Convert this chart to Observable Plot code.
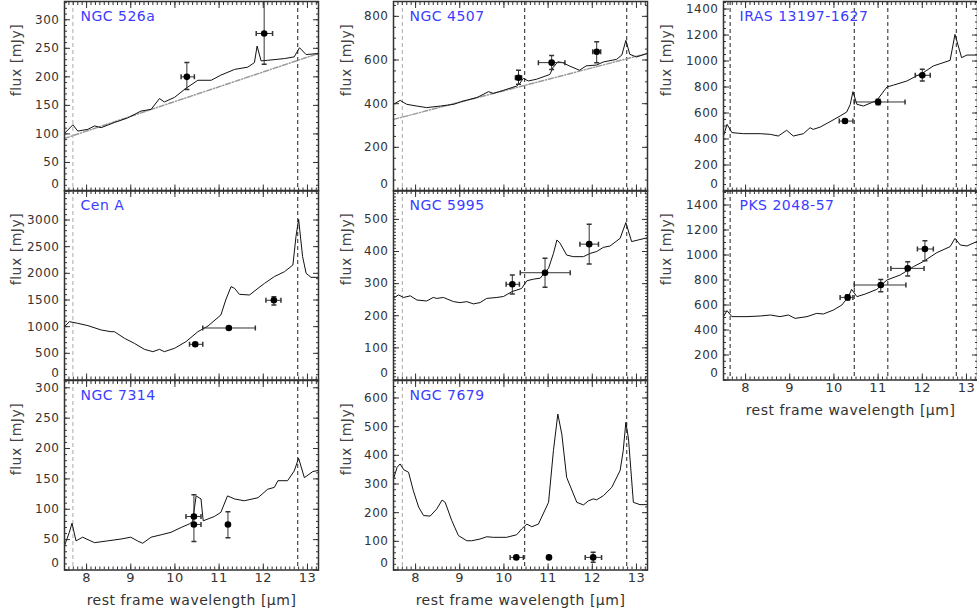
<!DOCTYPE html>
<html><head><meta charset="utf-8">
<script src="https://cdn.jsdelivr.net/npm/d3@7"></script>
<script src="https://cdn.jsdelivr.net/npm/@observablehq/plot@0.6"></script>
<style>
body{margin:0;background:#fff;}
#chart{position:relative;width:977px;height:611px;overflow:hidden;background:#fff;}
#chart svg{position:absolute;overflow:visible;}
</style></head><body><div id="chart"></div>
<script>
// ---------- data ----------
const xTicks = [8, 9, 10, 11, 12, 13];

const ngc526a_wl   = [7.5,7.69,7.8,8.03,8.18,8.33,8.63,8.93,9.23,9.46,9.65,9.76,9.99,10.25,10.52,10.82,11.04,11.35,11.65,11.8,11.86,11.95,12.1,12.48,12.7,12.82,12.97,13.25];
const ngc526a_flux = [101,116,105,108,114,111,120,128,140,143,162,156,164,180,194,194,203,213,217,225,254,228,229,232,235,251,239,241];
const ngc526a_cont_wl = [7.5, 13.25];
const ngc526a_cont_flux = [92, 241];
const ngc526a_pts = [[10.27,200,10.14,10.44,178,225],[12.02,276,11.84,12.21,222,345]];

const cenA_wl   = [7.5,7.61,7.8,8.03,8.33,8.55,8.63,8.86,9.08,9.31,9.5,9.65,9.76,9.99,10.25,10.52,10.75,11.04,11.15,11.27,11.35,11.46,11.69,11.88,12.03,12.25,12.48,12.67,12.74,12.8,12.89,12.97,13.08,13.25];
const cenA_flux = [1000,1094,1063,1019,938,906,906,781,688,575,531,575,531,594,719,906,1013,1219,1500,1750,1719,1606,1594,1719,1813,1938,2031,2156,2688,3013,2313,2000,1925,1925];
const cenA_pts = [[10.46,669,10.33,10.63,640,700],[11.22,975,10.63,11.82,950,1000],[12.24,1494,12.06,12.40,1406,1562]];

const ngc7314_wl   = [7.5,7.61,7.67,7.76,7.91,8.18,8.48,8.78,9.0,9.15,9.27,9.46,9.69,9.91,10.14,10.33,10.4,10.48,10.59,10.64,10.89,11.04,11.19,11.35,11.57,11.88,12.1,12.25,12.33,12.55,12.7,12.8,12.93,13.12,13.25];
const ngc7314_flux = [40,62,77,48,54,45,48,51,54,48,44,54,58,62,70,76,80,122,117,81,88,95,122,117,114,119,133,136,147,147,163,184,152,162,164];
const ngc7314_pts = [[10.43,75,10.38,10.59,47,124],[10.43,88,10.25,10.59,85,91],[11.2,75,11.2,11.2,53,96]];

const ngc4507_wl   = [7.5,7.65,7.8,8.03,8.25,8.56,8.86,9.08,9.39,9.65,9.76,9.99,10.29,10.36,10.44,10.55,10.74,11.04,11.11,11.22,11.33,11.48,11.71,11.86,12.1,12.25,12.55,12.67,12.76,12.85,13.0,13.23];
const ngc4507_flux = [397,415,397,389,382,389,397,412,428,455,447,461,481,493,516,504,512,534,565,592,588,573,553,573,577,591,603,623,690,626,614,629];
const ngc4507_cont_wl = [7.5, 13.23];
const ngc4507_cont_flux = [328, 629];
const ngc4507_pts = [[10.33,519,10.26,10.40,489,553],[11.08,588,10.78,11.38,557,621],[12.10,638,12.01,12.19,588,684]];

const ngc5995_wl   = [7.5,7.61,7.73,7.88,8.03,8.25,8.4,8.48,8.63,8.86,9.01,9.16,9.31,9.46,9.61,9.84,9.99,10.18,10.4,10.52,10.67,10.82,11.01,11.12,11.2,11.27,11.42,11.57,11.8,11.95,12.1,12.25,12.4,12.63,12.76,12.89,13.04,13.25];
const ngc5995_flux = [254,265,257,262,249,246,257,254,257,244,241,244,237,241,254,257,260,275,285,309,314,317,348,394,436,426,389,384,384,394,400,413,417,441,490,431,436,443];
const ngc5995_pts = [[10.19,298,10.05,10.35,268,327],[10.93,334,10.37,11.50,289,379],[11.93,423,11.72,12.14,361,485]];

const ngc7679_wl   = [7.5,7.58,7.65,7.73,7.84,7.95,8.07,8.18,8.33,8.48,8.6,8.67,8.82,8.97,9.16,9.27,9.46,9.61,9.76,10.06,10.29,10.4,10.52,10.63,10.78,11.01,11.12,11.22,11.31,11.42,11.65,11.8,11.91,12.02,12.1,12.25,12.44,12.63,12.7,12.76,12.82,12.93,13.08,13.25];
const ngc7679_flux = [317,358,370,350,341,276,219,190,188,213,244,236,172,120,102,102,108,116,114,114,123,143,160,151,160,236,416,544,474,323,236,227,241,248,245,259,288,347,416,515,457,236,228,228];
const ngc7679_pts = [[10.28,44,10.14,10.44,38,50],[11.02,44,11.02,11.02,41,47],[12.02,44,11.84,12.21,27,62]];

const iras_wl   = [7.5,7.58,7.69,7.95,8.33,8.56,8.74,8.93,9.08,9.31,9.46,9.53,9.69,9.91,10.14,10.29,10.37,10.43,10.52,10.67,10.97,11.2,11.35,11.65,11.87,12.02,12.25,12.63,12.74,12.89,13.01,13.23];
const iras_flux = [423,513,449,441,441,436,423,467,423,441,487,474,492,533,577,608,667,764,667,654,697,800,815,846,885,910,962,1005,1205,1026,1046,1046];
const iras_pts = [[10.25,538,10.12,10.43,525,551],[11.0,685,10.46,11.61,664,705],[12.0,890,11.84,12.18,846,936]];

const pks_wl   = [7.5,7.58,7.69,8.03,8.33,8.56,8.78,8.97,9.12,9.39,9.61,9.76,9.99,10.18,10.33,10.4,10.52,10.71,10.97,11.2,11.5,11.8,12.02,12.33,12.63,12.74,12.86,13.01,13.23];
const pks_flux = [507,555,507,507,512,520,507,520,493,507,533,528,560,600,667,725,667,688,725,800,840,907,947,1019,1067,1133,1080,1072,1107];
const pks_pts = [[10.31,661,10.14,10.43,640,680],[11.06,760,10.46,11.63,707,805],[11.67,893,11.29,12.04,832,947],[12.06,1048,11.89,12.25,955,1115]];

// dashed reference lines (µm)
const col1_gray = [7.69], col1_black = [12.78];
const col2_gray = [7.7],  col2_black = [10.47, 12.78];
const col3_gray = [],     col3_black = [7.65, 10.46, 11.22, 12.77];

// ---------- layout ----------
const W = 254, H = 189.5;
const colLeft = [64, 393, 722.5];
const rowTop = [0.5, 190.25, 380];
const titleDx = [-48, -47, -57];
const BLUE = "#3c3cff", INK = "#333";

const panels = [
  {name:"NGC 526a", col:0,row:0, wl:ngc526a_wl, flux:ngc526a_flux, cont:[ngc526a_cont_wl,ngc526a_cont_flux], pts:ngc526a_pts, gray:col1_gray, black:col1_black, yMax:332, yStep:50, yMinor:10, yTop:300},
  {name:"Cen A", col:0,row:1, wl:cenA_wl, flux:cenA_flux, pts:cenA_pts, gray:col1_gray, black:col1_black, yMax:3553, yStep:500, yMinor:100, yTop:3000},
  {name:"NGC 7314", col:0,row:2, wl:ngc7314_wl, flux:ngc7314_flux, pts:ngc7314_pts, gray:col1_gray, black:col1_black, yMax:312, yStep:50, yMinor:10, yTop:300, xLabels:true},
  {name:"NGC 4507", col:1,row:0, wl:ngc4507_wl, flux:ngc4507_flux, cont:[ngc4507_cont_wl,ngc4507_cont_flux], pts:ngc4507_pts, gray:col2_gray, black:col2_black, yMax:868, yStep:200, yMinor:50, yTop:800},
  {name:"NGC 5995", col:1,row:1, wl:ngc5995_wl, flux:ngc5995_flux, pts:ngc5995_pts, gray:col2_gray, black:col2_black, yMax:590, yStep:100, yMinor:10, yTop:500},
  {name:"NGC 7679", col:1,row:2, wl:ngc7679_wl, flux:ngc7679_flux, pts:ngc7679_pts, gray:col2_gray, black:col2_black, yMax:661, yStep:100, yMinor:20, yTop:600, xLabels:true},
  {name:"IRAS 13197-1627", col:2,row:0, wl:iras_wl, flux:iras_flux, pts:iras_pts, gray:col3_gray, black:col3_black, yMax:1458, yStep:200, yMinor:50, yTop:1400},
  {name:"PKS 2048-57", col:2,row:1, wl:pks_wl, flux:pks_flux, pts:pks_pts, gray:col3_gray, black:col3_black, yMax:1516, yStep:200, yMinor:50, yTop:1400, xLabels:true}
];

const hcap = {draw(ctx, size){ const r = Math.sqrt(size/Math.PI); ctx.moveTo(-r,0); ctx.lineTo(r,0); }};
const vcap = {draw(ctx, size){ const r = Math.sqrt(size/Math.PI); ctx.moveTo(0,-r); ctx.lineTo(0,r); }};
const blank = () => "";
const xMinor = d3.range(75, 133).map(d => d / 10);

const chart = document.getElementById("chart");

for (const p of panels) {
  const ml = 75, mr = 4, mt = 4, mb = p.xLabels ? 50 : 4;
  const spec = p.wl.map((x, i) => ({x, y: p.flux[i]}));
  const pts = p.pts.map(([x,y,xlo,xhi,ylo,yhi]) => ({x,y,xlo,xhi,ylo,yhi}));
  const xe = pts.filter(d => d.xhi > d.xlo);
  const ye = pts.filter(d => d.yhi > d.ylo);
  const yMajor = d3.range(0, p.yTop + 1, p.yStep);
  const yMin = d3.range(0, p.yMax, p.yMinor);
  const marks = [
    Plot.ruleX(p.gray, {stroke: "#aaa", strokeDasharray: "4,3"}),
    Plot.ruleX(p.black, {stroke: "#222", strokeDasharray: "4,3"}),
  ];
  if (p.cont) {
    const c = p.cont[0].map((x, i) => ({x, y: p.cont[1][i]}));
    marks.push(Plot.line(c, {x: "x", y: "y", stroke: "#999", strokeDasharray: "5,2,1,2"}));
  }
  marks.push(
    Plot.line(spec, {x: "x", y: "y", stroke: "#111", strokeWidth: 1, clip: true}),
    Plot.link(xe, {x1: "xlo", x2: "xhi", y1: "y", y2: "y", stroke: INK, clip: true}),
    Plot.link(ye, {x1: "x", x2: "x", y1: "ylo", y2: "yhi", stroke: INK, clip: true}),
    Plot.dot(xe, {x: "xlo", y: "y", symbol: vcap, r: 2.5, stroke: INK, fill: "none", clip: true}),
    Plot.dot(xe, {x: "xhi", y: "y", symbol: vcap, r: 2.5, stroke: INK, fill: "none", clip: true}),
    Plot.dot(ye, {x: "x", y: "ylo", symbol: hcap, r: 2.5, stroke: INK, fill: "none", clip: true}),
    Plot.dot(ye, {x: "x", y: "yhi", symbol: hcap, r: 2.5, stroke: INK, fill: "none", clip: true}),
    Plot.dot(pts, {x: "x", y: "y", r: 3.3, fill: "#000"}),
    Plot.frame({stroke: INK, strokeWidth: 1.5}),
    // inward ticks on all four sides
    Plot.axisX({anchor: "bottom", ticks: xTicks, tickSize: -6, tickFormat: blank, label: null, stroke: INK}),
    Plot.axisX({anchor: "bottom", ticks: xMinor, tickSize: -3, tickFormat: blank, label: null, stroke: INK}),
    Plot.axisX({anchor: "top", ticks: xTicks, tickSize: -6, tickFormat: blank, label: null, stroke: INK}),
    Plot.axisX({anchor: "top", ticks: xMinor, tickSize: -3, tickFormat: blank, label: null, stroke: INK}),
    Plot.axisY({anchor: "left", ticks: yMajor, tickSize: -6, tickFormat: blank, label: null, stroke: INK}),
    Plot.axisY({anchor: "left", ticks: yMin, tickSize: -3, tickFormat: blank, label: null, stroke: INK}),
    Plot.axisY({anchor: "right", ticks: yMajor, tickSize: -6, tickFormat: blank, label: null, stroke: INK}),
    Plot.axisY({anchor: "right", ticks: yMin, tickSize: -3, tickFormat: blank, label: null, stroke: INK}),
    // y tick labels
    Plot.axisY({anchor: "left", ticks: yMajor.filter(d => d > 0), tickSize: 0, tickPadding: 5, label: null, fill: INK, fontSize: 12, tickFormat: d => String(d)}),
    Plot.axisY({anchor: "left", ticks: [0], tickSize: 0, tickPadding: 5, dy: -7, label: null, fill: INK, fontSize: 12, tickFormat: d => String(d)}),
    Plot.text(["flux [mJy]"], {frameAnchor: "left", rotate: -90, dx: titleDx[p.col], text: d => d, fill: "#444", fontSize: 14}),
    Plot.text([p.name], {frameAnchor: "top-left", textAnchor: "start", lineAnchor: "middle", dx: 16, dy: 15, text: d => d, fill: BLUE, fontSize: 14})
  );
  if (p.xLabels) {
    marks.push(
      Plot.axisX({anchor: "bottom", ticks: xTicks, tickSize: 0, tickPadding: 3, label: null, fill: INK, fontSize: 13, tickFormat: d => String(d)}),
      Plot.text(["rest frame wavelength [μm]"], {frameAnchor: "bottom", lineAnchor: "middle", dy: 31, text: d => d, fill: INK, fontSize: 14})
    );
  }
  const svg = Plot.plot({
    width: ml + W + mr, height: mt + H + mb,
    marginLeft: ml, marginRight: mr, marginTop: mt, marginBottom: mb,
    x: {domain: [7.5, 13.25]},
    y: {domain: [0, p.yMax]},
    style: {fontFamily: "DejaVu Sans", fontSize: "13px", color: INK, background: "transparent", overflow: "visible", letterSpacing: "0.5px"},
    marks
  });
  svg.style.left = (colLeft[p.col] - ml) + "px";
  svg.style.top = (rowTop[p.row] - mt) + "px";
  chart.appendChild(svg);
}
</script></body></html>
